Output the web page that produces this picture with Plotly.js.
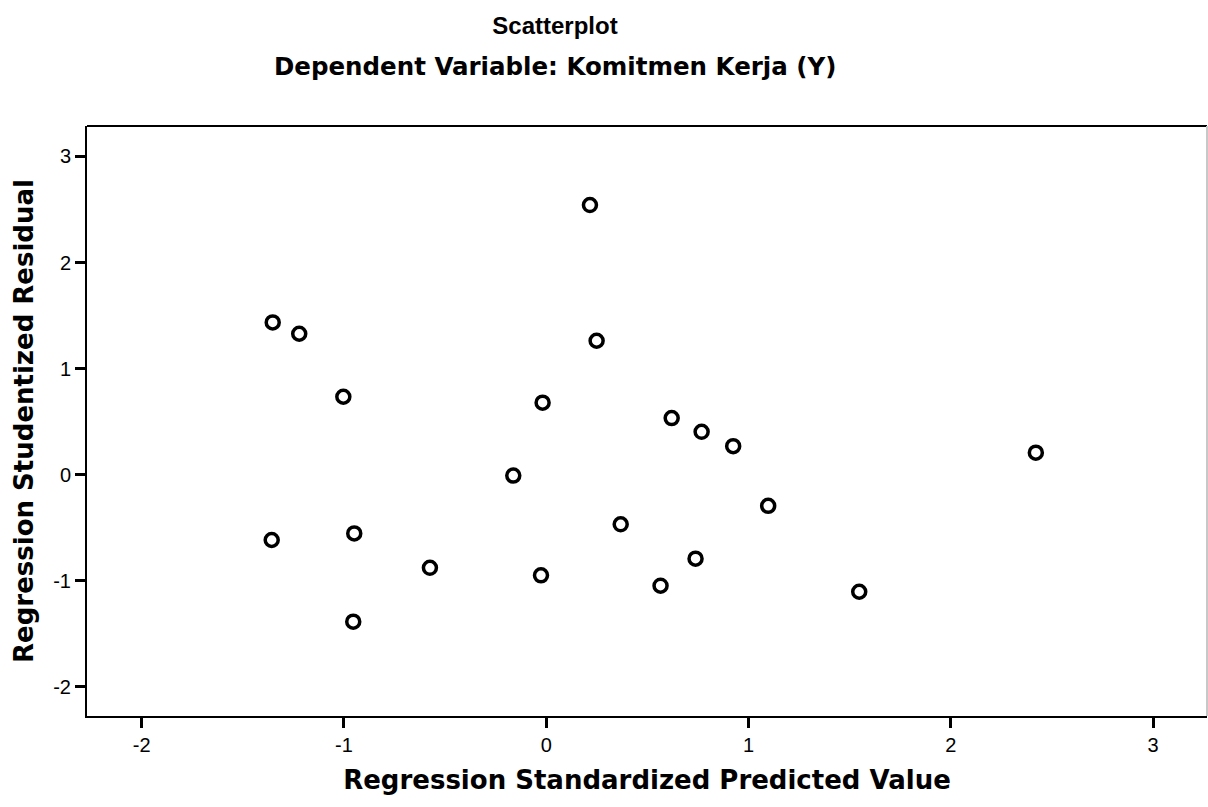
<!DOCTYPE html>
<html>
<head>
<meta charset="utf-8">
<script src="https://cdn.plot.ly/plotly-3.0.1.min.js"></script>
<style>html,body{margin:0;padding:0;background:#fff;}#chart{width:1208px;height:807px;}</style>
</head>
<body>
<div id="chart"></div>
<script>
// Regression Standardized Predicted Value
const predicted = [-1.352, -1.221, -1.003, -0.018, -0.163, 0.216, 0.249, 0.620, 0.768, 0.924, 2.420, 1.097, 1.547, -1.357, -0.949, -0.575, -0.026, 0.368, 0.738, 0.565, -0.954];
// Regression Studentized Residual
const residual = [1.436, 1.329, 0.735, 0.679, -0.008, 2.542, 1.263, 0.534, 0.405, 0.269, 0.208, -0.293, -1.103, -0.615, -0.553, -0.877, -0.948, -0.467, -0.791, -1.046, -1.385];
const xTicks = [-2, -1, 0, 1, 2, 3];
const yTicks = [-2, -1, 0, 1, 2, 3];
const titleLine1 = 'Scatterplot';
const titleLine2 = 'Dependent Variable: Komitmen Kerja (Y)';

const arial = 'Arial, "Liberation Sans", sans-serif';
const wide = '"DejaVu Sans", Verdana, sans-serif';

const trace = {
  x: predicted, y: residual, type: 'scatter', mode: 'markers',
  marker: {symbol: 'circle', size: 13, color: '#ffffff', line: {color: '#000000', width: 3.5}},
  hoverinfo: 'x+y'
};

const layout = {
  width: 1208, height: 807,
  margin: {l: 87, r: 1, t: 126, b: 91},
  paper_bgcolor: '#ffffff', plot_bgcolor: '#ffffff',
  showlegend: false,
  font: {family: arial, color: '#000000'},
  title: {
    text: '<b>' + titleLine1 + '</b>',
    font: {family: arial, size: 24, color: '#000000'},
    x: 555 / 1208, xref: 'container', xanchor: 'center',
    y: 1 - 26 / 807, yref: 'container', yanchor: 'middle'
  },
  annotations: [{
    text: '<b>' + titleLine2 + '</b>',
    font: {family: wide, size: 24.5, color: '#000000'},
    xref: 'paper', yref: 'paper',
    x: (555 - 87) / 1120, y: 1 + (126 - 67) / 590,
    xanchor: 'center', yanchor: 'middle', showarrow: false
  }],
  shapes: [
    {type: 'line', xref: 'paper', yref: 'paper', x0: 0, x1: 1, y0: 1, y1: 1, line: {color: '#000', width: 2}},
    {type: 'line', xref: 'paper', yref: 'paper', x0: 1, x1: 1, y0: 0, y1: 1, line: {color: '#c8c8c8', width: 2}}
  ],
  xaxis: {
    range: [-2.27, 3.266], tickvals: xTicks, ticktext: xTicks.map(String),
    ticks: 'outside', ticklen: 10, tickwidth: 3, tickcolor: '#000',
    showline: true, linecolor: '#000', linewidth: 2, mirror: false,
    showgrid: false, zeroline: false,
    tickfont: {family: arial, size: 20, color: '#000'},
    title: {text: '<b>Regression Standardized Predicted Value</b>', font: {family: wide, size: 26, color: '#000'}, standoff: 16}
  },
  yaxis: {
    range: [-2.274, 3.287], tickvals: yTicks, ticktext: yTicks.map(String),
    ticks: 'outside', ticklen: 10, tickwidth: 3, tickcolor: '#000',
    showline: true, linecolor: '#000', linewidth: 2, mirror: false,
    showgrid: false, zeroline: false,
    tickfont: {family: arial, size: 20, color: '#000'},
    title: {text: '<b>Regression Studentized Residual</b>', font: {family: wide, size: 26, color: '#000'}, standoff: 12}
  }
};

Plotly.newPlot('chart', [trace], layout, {displayModeBar: false, staticPlot: true});
</script>
</body>
</html>
